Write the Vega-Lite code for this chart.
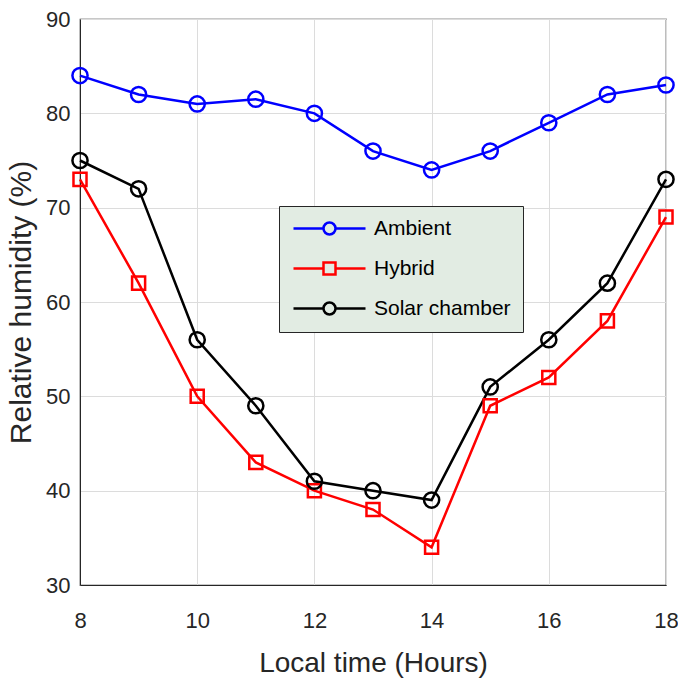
{
  "$schema": "https://vega.github.io/schema/vega-lite/v6.json",
  "width": 586,
  "height": 566,
  "autosize": {"type": "none"},
  "padding": {"left": 80, "top": 19, "right": 12, "bottom": 100},
  "background": "white",
  "config": {
    "font": "Liberation Sans, Arial",
    "view": {"stroke": "#262626", "strokeWidth": 1.2},
    "axis": {
      "labelFont": "Liberation Sans, Arial",
      "titleFont": "Liberation Sans, Arial",
      "labelColor": "#262626",
      "titleColor": "#262626",
      "labelFontWeight": "normal",
      "titleFontWeight": "normal",
      "gridColor": "#dcdcdc",
      "gridWidth": 1,
      "domainColor": "#262626",
      "ticks": false
    }
  },
  "data": {
    "values": [
      {"time": 8, "series": "Ambient", "rh": 84},
      {"time": 9, "series": "Ambient", "rh": 82},
      {"time": 10, "series": "Ambient", "rh": 81},
      {"time": 11, "series": "Ambient", "rh": 81.5},
      {"time": 12, "series": "Ambient", "rh": 80},
      {"time": 13, "series": "Ambient", "rh": 76},
      {"time": 14, "series": "Ambient", "rh": 74},
      {"time": 15, "series": "Ambient", "rh": 76},
      {"time": 16, "series": "Ambient", "rh": 79},
      {"time": 17, "series": "Ambient", "rh": 82},
      {"time": 18, "series": "Ambient", "rh": 83},
      {"time": 8, "series": "Hybrid", "rh": 73},
      {"time": 9, "series": "Hybrid", "rh": 62},
      {"time": 10, "series": "Hybrid", "rh": 50},
      {"time": 11, "series": "Hybrid", "rh": 43},
      {"time": 12, "series": "Hybrid", "rh": 40},
      {"time": 13, "series": "Hybrid", "rh": 38},
      {"time": 14, "series": "Hybrid", "rh": 34},
      {"time": 15, "series": "Hybrid", "rh": 49},
      {"time": 16, "series": "Hybrid", "rh": 52},
      {"time": 17, "series": "Hybrid", "rh": 58},
      {"time": 18, "series": "Hybrid", "rh": 69},
      {"time": 8, "series": "Solar chamber", "rh": 75},
      {"time": 9, "series": "Solar chamber", "rh": 72},
      {"time": 10, "series": "Solar chamber", "rh": 56},
      {"time": 11, "series": "Solar chamber", "rh": 49},
      {"time": 12, "series": "Solar chamber", "rh": 41},
      {"time": 13, "series": "Solar chamber", "rh": 40},
      {"time": 14, "series": "Solar chamber", "rh": 39},
      {"time": 15, "series": "Solar chamber", "rh": 51},
      {"time": 16, "series": "Solar chamber", "rh": 56},
      {"time": 17, "series": "Solar chamber", "rh": 62},
      {"time": 18, "series": "Solar chamber", "rh": 73}
    ]
  },
  "encoding": {
    "x": {
      "field": "time",
      "type": "quantitative",
      "scale": {"domain": [8, 18], "nice": false, "zero": false},
      "axis": {
        "values": [8, 10, 12, 14, 16, 18],
        "title": "Local time (Hours)",
        "labelFontSize": 22,
        "titleFontSize": 28,
        "labelPadding": 25,
        "titlePadding": 18,
        "labelFlush": false
      }
    },
    "y": {
      "field": "rh",
      "type": "quantitative",
      "scale": {"domain": [30, 90], "nice": false, "zero": false},
      "axis": {
        "values": [30, 40, 50, 60, 70, 80, 90],
        "title": "Relative humidity (%)",
        "labelFontSize": 22,
        "titleFontSize": 30,
        "labelPadding": 10,
        "titlePadding": 9,
        "labelFlush": false
      }
    },
    "color": {
      "field": "series",
      "type": "nominal",
      "scale": {"domain": ["Ambient", "Hybrid", "Solar chamber"], "range": ["#0000ff", "#ff0000", "#000000"]},
      "legend": {
        "title": null,
        "orient": "none",
        "legendX": 199,
        "legendY": 187,
        "fillColor": "#e2ece3",
        "strokeColor": "#262626",
        "padding": 12,
        "symbolSize": 144,
        "symbolStrokeWidth": 2.5,
        "symbolOffset": 28,
        "symbolFillColor": "transparent",
        "labelOffset": 34,
        "labelFontSize": 21,
        "labelFont": "Liberation Sans, Arial",
        "labelColor": "#000000",
        "rowPadding": 17,
        "labelLimit": 300,
        "encode": {
          "symbols": {
            "update": {
              "shape": {"signal": "datum.value === 'Hybrid' ? 'M-6,0H-1M1,0H6M-1,-1H1V1H-1Z' : 'M-6,0H-1M1,0H6M-1,0A1,1 0 1 0 1,0A1,1 0 1 0 -1,0'"},
              "fill": {"value": "transparent"},
              "strokeWidth": {"value": 2.5}
            }
          }
        }
      }
    }
  },
  "layer": [
    {
      "mark": {"type": "line", "strokeWidth": 2.5}
    },
    {
      "mark": {"type": "point", "filled": false, "strokeWidth": 2.5, "opacity": 1},
      "encoding": {
        "shape": {"condition": {"test": "datum.series === 'Hybrid'", "value": "square"}, "value": "circle"},
        "size": {"condition": {"test": "datum.series === 'Hybrid'", "value": 170}, "value": 230}
      }
    }
  ]
}
